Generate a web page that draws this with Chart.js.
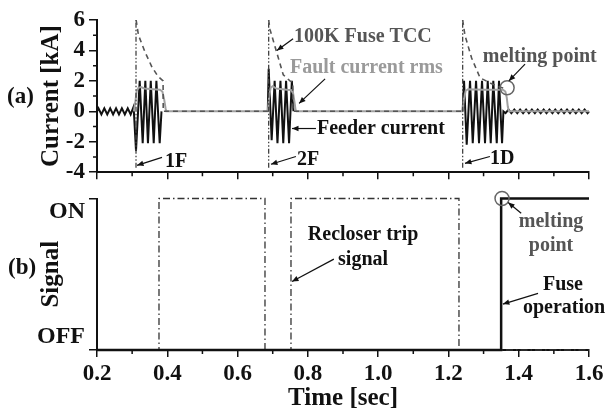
<!DOCTYPE html>
<html>
<head>
<meta charset="utf-8">
<title>Fuse and recloser response</title>
<script src="https://cdn.jsdelivr.net/npm/chart.js@4.4.1/dist/chart.umd.min.js"></script>
<style>
  html, body { margin: 0; padding: 0; background: #fff; }
  #wrap { position: relative; width: 608px; height: 414px; }
  canvas { position: absolute; left: 0; }
  #top { top: 0; }
  #bot { top: 190px; }
</style>
</head>
<body>
<div id="wrap">
  <canvas id="top" width="608" height="190"></canvas>
  <canvas id="bot" width="608" height="224"></canvas>
</div>
<script>
'use strict';

// axis ticks
var xTicks = [0.2, 0.4, 0.6, 0.8, 1.0, 1.2, 1.4, 1.6];
var xMinor = [0.3, 0.5, 0.7, 0.9, 1.1, 1.3, 1.5];
var currentTicks = [-4, -2, 0, 2, 4, 6];
var currentMinor = [-3, -1, 1, 3, 5];
var signalLabels = ['OFF', 'ON'];

// feeder current [kA] (null = no trace)
var feederT = [0.200, 0.2042, 0.2125, 0.2208, 0.2292, 0.2375, 0.2458, 0.2542, 0.2625, 0.2708, 0.2792, 0.2875, 0.2958, 0.3042,
  0.311, 0.3215, 0.330, 0.3375, 0.345, 0.353, 0.3614, 0.369, 0.3784, 0.3835, 0.384,
  0.686, 0.6885, 0.697, 0.7055, 0.7135, 0.722, 0.730, 0.738, 0.7465, 0.7545, 0.759, 0.760,
  1.2405, 1.2444, 1.252, 1.2615, 1.2692, 1.2786, 1.287, 1.2956, 1.3041, 1.3118, 1.3204, 1.3277, 1.3375, 1.3439, 1.3526, 1.3565,
  1.3625, 1.371, 1.379, 1.3875, 1.396, 1.404, 1.4125, 1.421, 1.429, 1.4375, 1.446, 1.454, 1.4625, 1.471, 1.479,
  1.4875, 1.496, 1.504, 1.5125, 1.521, 1.529, 1.5375, 1.546, 1.554, 1.5625, 1.571, 1.579, 1.5875, 1.596, 1.600];
var feederI = [0, 0.2, -0.2, 0.2, -0.2, 0.2, -0.2, 0.2, -0.2, 0.2, -0.2, 0.2, -0.2, 0.3,
  -2.6, 2.0, -2.1, 2.0, -2.1, 2.0, -2.1, 2.0, -2.1, 0, null,
  0, 2.8, -1.9, 2.0, -2.1, 2.0, -2.1, 2.0, -2.1, 2.0, 0, null,
  0, 2.0, -2.2, 2.0, -2.1, 2.0, -2.1, 2.0, -2.1, 2.0, -2.1, 2.0, -2.1, 2.0, -2.1, 0,
  -0.12, 0.12, -0.12, 0.12, -0.12, 0.12, -0.12, 0.12, -0.12, 0.12, -0.12, 0.12, -0.12, 0.12, -0.12,
  0.12, -0.12, 0.12, -0.12, 0.12, -0.12, 0.12, -0.12, 0.12, -0.12, 0.12, -0.12, 0.12, -0.12, 0];

// fault current rms [kA]
var rmsT = [0.305, 0.309, 0.313, 0.318, 0.325, 0.335, 0.360, 0.379, 0.386, 0.391, 0.395, 0.397,
  0.686, 0.690, 0.694, 0.700, 0.710, 0.740, 0.752, 0.758, 0.762, 0.765, 0.768,
  1.2405, 1.244, 1.249, 1.256, 1.300, 1.355, 1.362, 1.366, 1.369, 1.372, 1.600];
var rmsI = [0, 0.6, 1.35, 1.55, 1.6, 1.5, 1.45, 1.42, 1.3, 0.8, 0.2, 0,
  0, 1.0, 1.55, 1.65, 1.5, 1.42, 1.4, 1.2, 0.6, 0.1, 0,
  0, 0.8, 1.35, 1.45, 1.42, 1.42, 1.3, 0.9, 0.3, 0, 0];

// 100K fuse TCC [kA]
var tccT = [0.3113, 0.318, 0.3366, 0.3565, 0.3736, 0.388, 0.3885, 0.687, 0.687,
  0.6885, 0.692, 0.711, 0.730, 0.749, 0.757, 0.7575, 1.240, 1.240,
  1.2405, 1.247, 1.266, 1.290, 1.320, 1.345, 1.362];
var tccI = [6, 5.0, 3.9, 2.9, 2.3, 2.0, 0, 0, null,
  6, 5.4, 3.9, 2.4, 2.0, 1.9, 0, 0, null,
  6, 5.0, 3.5, 2.2, 1.85, 1.6, 1.5];

// recloser operations 1F, 2F, 1D
var opT = [0.311, 0.6885, 1.2405];
var opLow = -3.7;
var opHigh = 6;

// melting point
var meltT = [1.367];
var meltI = [1.55];

// bottom panel signals (0 = OFF, 1 = ON)
var tripT = [0.2, 0.3764, 0.3764, 0.678, 0.678, 0.752, 0.752, 1.230, 1.230, 1.6];
var tripS = [0, 0, 1, 1, 0, 0, 1, 1, 0, 0];
var fuseT = [0.2, 1.35, 1.35, 1.6];
var fuseS = [0, 0, 1, 1];
var fuseMeltT = [1.3525];
var fuseMeltS = [1];

// annotations, in data units
var notesA = [
  { text: '100K Fuse TCC', t: 0.7606, v: 4.9, color: '#555' },
  { text: 'Fault current rms', t: 0.749, v: 2.84, color: '#9a9a9a' },
  { text: 'Feeder current', t: 0.826, v: -1.16, color: '#111' },
  { text: 'melting point', t: 1.298, v: 3.6, color: '#555' },
  { text: '1F', t: 0.3935, v: -3.35, color: '#111' },
  { text: '2F', t: 0.769, v: -3.16, color: '#111' },
  { text: '1D', t: 1.318, v: -3.1, color: '#111' }
];
var arrowsA = [
  [0.758, 4.77, 0.712, 4.0],
  [0.849, 2.13, 0.775, 0.52],
  [0.823, -1.13, 0.755, -1.13],
  [1.418, 3.1, 1.372, 2.0],
  [0.385, -3.03, 0.314, -3.55],
  [0.766, -2.97, 0.695, -3.48],
  [1.318, -2.97, 1.247, -3.42]
];
var notesB = [
  { text: 'Recloser trip', t: 0.800, v: 0.761, color: '#111' },
  { text: 'signal', t: 0.886, v: 0.594, color: '#111' },
  { text: 'melting', t: 1.492, v: 0.845, color: '#555', align: 'center' },
  { text: 'point', t: 1.492, v: 0.69, color: '#555', align: 'center' },
  { text: 'Fuse', t: 1.469, v: 0.432, color: '#111' },
  { text: 'operation', t: 1.412, v: 0.277, color: '#111' }
];
var arrowsB = [
  [0.874, 0.6, 0.755, 0.452],
  [1.407, 0.903, 1.37, 0.974],
  [1.455, 0.374, 1.355, 0.303]
];

Chart.defaults.font.family = '"Liberation Serif", serif';
Chart.defaults.font.weight = 'bold';
Chart.defaults.color = '#111';

function pts (xs, ys) {
  var out = [];
  for (var i = 0; i < xs.length; i++) {
    out.push({ x: xs[i], y: ys[i] });
  }
  return out;
}

function opLines () {
  var out = [];
  for (var i = 0; i < opT.length; i++) {
    out.push({ x: opT[i], y: opLow });
    out.push({ x: opT[i], y: opHigh });
    out.push({ x: opT[i], y: null });
  }
  return out;
}

function drawNotes (chart, notes, arrows) {
  var ctx = chart.ctx;
  var xs = chart.scales.x;
  var ys = chart.scales.y;
  ctx.save();
  ctx.font = 'bold 20px "Liberation Serif"';
  ctx.textBaseline = 'middle';
  notes.forEach(function (n) {
    ctx.fillStyle = n.color;
    ctx.textAlign = n.align || 'left';
    ctx.fillText(n.text, xs.getPixelForValue(n.t), ys.getPixelForValue(n.v));
  });
  ctx.strokeStyle = '#111';
  ctx.fillStyle = '#111';
  ctx.lineWidth = 1.2;
  arrows.forEach(function (a) {
    var x1 = xs.getPixelForValue(a[0]), y1 = ys.getPixelForValue(a[1]);
    var x2 = xs.getPixelForValue(a[2]), y2 = ys.getPixelForValue(a[3]);
    var ang = Math.atan2(y2 - y1, x2 - x1);
    ctx.beginPath();
    ctx.moveTo(x1, y1);
    ctx.lineTo(x2, y2);
    ctx.stroke();
    ctx.beginPath();
    ctx.moveTo(x2, y2);
    ctx.lineTo(x2 - 7 * Math.cos(ang - 0.4), y2 - 7 * Math.sin(ang - 0.4));
    ctx.lineTo(x2 - 7 * Math.cos(ang + 0.4), y2 - 7 * Math.sin(ang + 0.4));
    ctx.closePath();
    ctx.fill();
  });
  ctx.restore();
}

function drawMinor (chart, xVals, yVals) {
  var ctx = chart.ctx;
  var area = chart.chartArea;
  ctx.save();
  ctx.strokeStyle = '#111';
  ctx.lineWidth = 1.5;
  ctx.beginPath();
  xVals.forEach(function (v) {
    var px = chart.scales.x.getPixelForValue(v);
    ctx.moveTo(px, area.bottom);
    ctx.lineTo(px, area.bottom + 4);
  });
  yVals.forEach(function (v) {
    var py = chart.scales.y.getPixelForValue(v);
    ctx.moveTo(area.left, py);
    ctx.lineTo(area.left - 4, py);
  });
  ctx.stroke();
  ctx.restore();
}

function xScale (showLabels, height) {
  return {
    type: 'linear', min: 0.2, max: 1.6,
    afterBuildTicks: function (s) { s.ticks = xTicks.map(function (v) { return { value: v }; }); },
    afterFit: function (s) { s.height = height; },
    ticks: {
      display: showLabels, padding: 3, maxRotation: 0,
      font: { size: 23, weight: 'bold' },
      callback: function (v) { return v.toFixed(1); }
    },
    grid: { drawOnChartArea: false, tickLength: 7, lineWidth: 1.5, tickColor: '#111' },
    border: { color: '#111', width: 2 }
  };
}

function yTitle (text) {
  return { display: true, text: text, font: { size: 25, weight: 'bold' }, padding: { top: 37, bottom: 0 } };
}

new Chart(document.getElementById('top'), {
  type: 'line',
  data: {
    datasets: [
      { data: pts(meltT, meltI), showLine: false, pointRadius: 7, pointBorderWidth: 1.5,
        pointBorderColor: '#666', pointBackgroundColor: 'rgba(0,0,0,0)' },
      { data: pts(tccT, tccI), borderColor: '#555', borderWidth: 1.6, borderDash: [5, 4], pointRadius: 0 },
      { data: opLines(), borderColor: '#444', borderWidth: 1.3, borderDash: [5, 2, 1.5, 2, 1.5, 2], pointRadius: 0 },
      { data: pts(rmsT, rmsI), borderColor: '#a0a0a0', borderWidth: 2, pointRadius: 0 },
      { data: pts(feederT, feederI), borderColor: '#111', borderWidth: 2, pointRadius: 0 }
    ]
  },
  options: {
    responsive: false, animation: false, clip: 8,
    spanGaps: false,
    layout: { padding: { top: 20, right: 19, left: 0, bottom: 0 } },
    plugins: { legend: { display: false }, tooltip: { enabled: false } },
    elements: { line: { tension: 0 } },
    scales: {
      x: xScale(false, 14),
      y: {
        min: -4, max: 6,
        afterBuildTicks: function (s) { s.ticks = currentTicks.map(function (v) { return { value: v }; }); },
        afterFit: function (s) { s.width = 97; },
        ticks: { padding: 4, font: { size: 23, weight: 'bold' } },
        grid: { drawOnChartArea: false, tickLength: 8, lineWidth: 1.5, tickColor: '#111' },
        border: { color: '#111', width: 2 },
        title: yTitle('Current [kA]')
      }
    }
  },
  plugins: [{
    id: 'extrasA',
    afterDraw: function (chart) {
      drawMinor(chart, xMinor, currentMinor);
      drawNotes(chart, notesA, arrowsA);
      var ctx = chart.ctx;
      ctx.save();
      ctx.font = 'bold 23px "Liberation Serif"';
      ctx.fillStyle = '#111';
      ctx.textBaseline = 'middle';
      ctx.textAlign = 'left';
      ctx.fillText('(a)', 7, 97);
      ctx.restore();
    }
  }]
});

new Chart(document.getElementById('bot'), {
  type: 'line',
  data: {
    datasets: [
      { data: pts(fuseMeltT, fuseMeltS), showLine: false, pointRadius: 7, pointBorderWidth: 1.5,
        pointBorderColor: '#666', pointBackgroundColor: 'rgba(0,0,0,0)' },
      { data: pts(fuseT, fuseS), borderColor: '#111', borderWidth: 2.5, pointRadius: 0 },
      { data: pts(tripT, tripS), borderColor: '#333', borderWidth: 1.3, borderDash: [7, 3, 1.5, 3], pointRadius: 0 }
    ]
  },
  options: {
    responsive: false, animation: false, clip: false,
    layout: { padding: { top: 5, right: 19, left: 0, bottom: 0 } },
    plugins: { legend: { display: false }, tooltip: { enabled: false } },
    elements: { line: { tension: 0 } },
    scales: {
      x: Object.assign(xScale(true, 64), {
        title: { display: true, text: 'Time [sec]', font: { size: 25, weight: 'bold' }, padding: 0 }
      }),
      y: {
        min: 0, max: 1,
        afterBuildTicks: function (s) { s.ticks = [{ value: 0 }, { value: 1 }]; },
        afterFit: function (s) { s.width = 97; },
        ticks: { display: false },
        grid: { drawOnChartArea: false, tickLength: 8, lineWidth: 1.5, tickColor: '#111' },
        border: { color: '#111', width: 2 },
        title: yTitle('Signal')
      }
    }
  },
  plugins: [{
    id: 'extrasB',
    afterDraw: function (chart) {
      drawMinor(chart, xMinor, []);
      drawNotes(chart, notesB, arrowsB);
      var ctx = chart.ctx;
      var ys = chart.scales.y;
      ctx.save();
      ctx.font = 'bold 24px "Liberation Serif"';
      ctx.fillStyle = '#111';
      ctx.textBaseline = 'middle';
      ctx.textAlign = 'right';
      ctx.fillText(signalLabels[1], chart.chartArea.left - 12, ys.getPixelForValue(0.91));
      ctx.fillText(signalLabels[0], chart.chartArea.left - 12, ys.getPixelForValue(0.09));
      ctx.textAlign = 'left';
      ctx.font = 'bold 23px "Liberation Serif"';
      ctx.fillText('(b)', 8, 78);
      ctx.restore();
    }
  }]
});
</script>
</body>
</html>
